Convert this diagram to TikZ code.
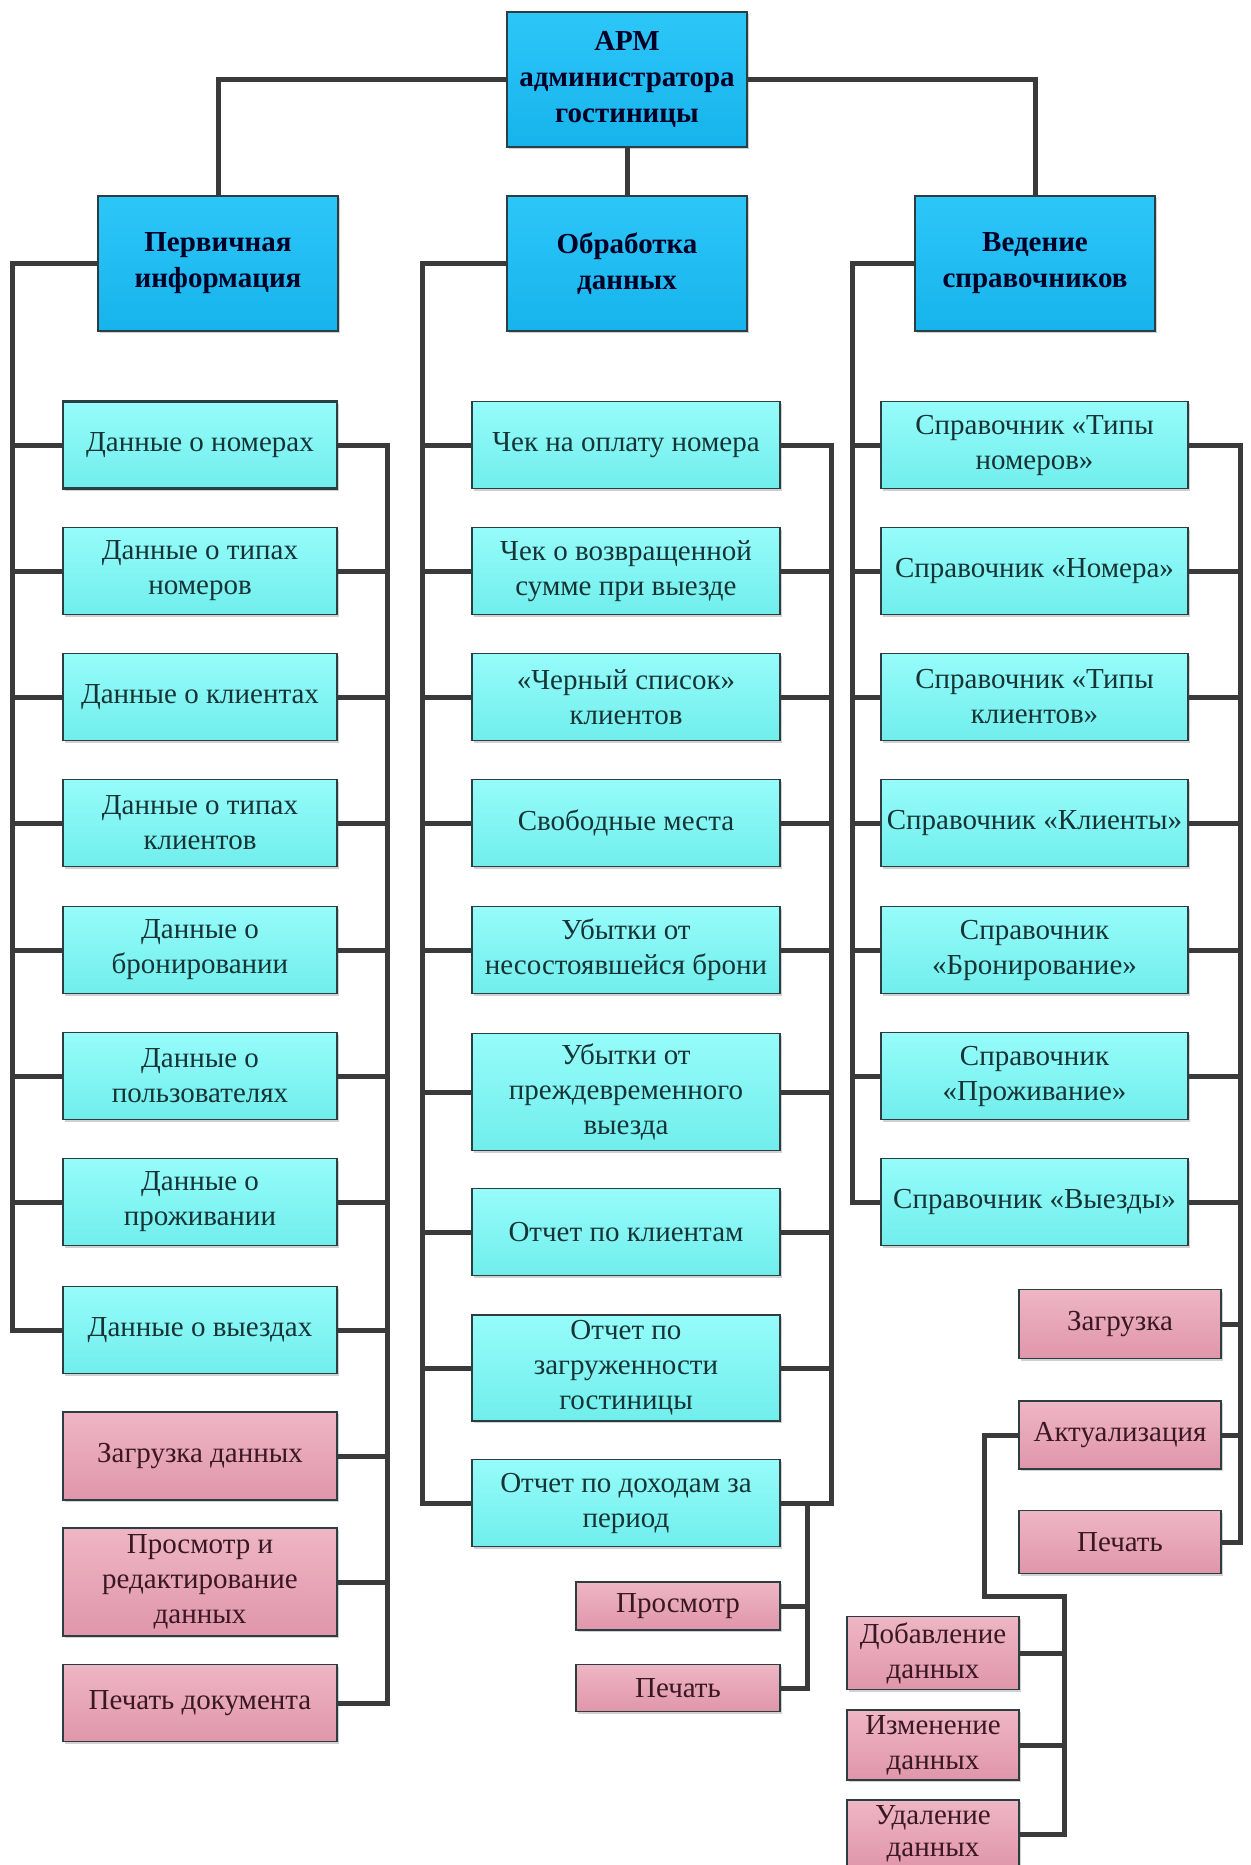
\documentclass[tikz,border=0pt]{standalone}
\usepackage{fontspec}
\setmainfont{Liberation Serif}
\usetikzlibrary{shadows}
\definecolor{linecol}{RGB}{58,58,58}
\definecolor{bordercol}{RGB}{45,62,66}
\definecolor{bluetop}{RGB}{45,198,248}
\definecolor{bluebot}{RGB}{22,180,236}
\definecolor{cyantop}{RGB}{150,252,250}
\definecolor{cyanbot}{RGB}{112,238,236}
\definecolor{pinktop}{RGB}{238,182,196}
\definecolor{pinkbot}{RGB}{224,150,170}
\definecolor{cyantext}{RGB}{22,52,54}
\definecolor{pinktext}{RGB}{58,24,34}
\begin{document}
\begin{tikzpicture}[x=0.5pt,y=-0.5pt,
  conn/.style={draw=linecol, line width=2.5pt},
  basebox/.style={draw=bordercol, line width=0.9pt, align=center, inner sep=0pt,
    drop shadow={shadow xshift=1.2pt, shadow yshift=-1.2pt, opacity=0.18, fill=black}},
  topbox/.style={basebox, top color=bluetop, bottom color=bluebot, text=black!85!blue,
    minimum width=120pt, minimum height=67.5pt, font=\bfseries\fontsize{14.5pt}{18pt}\selectfont},
  cbox/.style={basebox, top color=cyantop, bottom color=cyanbot, text=cyantext,
    font=\fontsize{14.5pt}{17.5pt}\selectfont},
  pbox/.style={basebox, top color=pinktop, bottom color=pinkbot, text=pinktext,
    font=\fontsize{14.5pt}{17.5pt}\selectfont},
  lw/.style={minimum width=137pt},
  mw/.style={minimum width=154pt},
  rw/.style={minimum width=153.5pt}
]
\useasboundingbox (0,0) rectangle (1250,1865);
\clip (0,0) rectangle (1250,1865);
\fill[white] (0,0) rectangle (1250,1865);

% top level
\node[topbox] (T) at (627,79.5) {АРМ\\администратора\\гостиницы};
\node[topbox] (P) at (218,263.5) {Первичная\\информация};
\node[topbox] (O) at (627,263.5) {Обработка\\данных};
\node[topbox] (V) at (1035,263.5) {Ведение\\справочников};

% left column
\node[cbox,lw,minimum height=43.5pt,line width=1.4pt] (L1) at (200,445) {Данные о номерах};
\node[cbox,lw,minimum height=43.5pt] (L2) at (200,571) {Данные о типах\\номеров};
\node[cbox,lw,minimum height=43.5pt] (L3) at (200,697) {Данные о клиентах};
\node[cbox,lw,minimum height=43.5pt] (L4) at (200,823) {Данные о типах\\клиентов};
\node[cbox,lw,minimum height=43.5pt] (L5) at (200,950) {Данные о\\бронировании};
\node[cbox,lw,minimum height=43.5pt] (L6) at (200,1076) {Данные о\\пользователях};
\node[cbox,lw,minimum height=43.5pt] (L7) at (200,1202) {Данные о\\проживании};
\node[cbox,lw,minimum height=43.5pt] (L8) at (200,1330) {Данные о выездах};
\node[pbox,lw,minimum height=44pt] (L9) at (200,1456) {Загрузка данных};
\node[pbox,lw,minimum height=54pt] (L10) at (200,1582) {Просмотр и\\редактирование\\данных};
\node[pbox,lw,minimum height=38.5pt] (L11) at (200,1703) {Печать документа};

% middle column
\node[cbox,mw,minimum height=43.5pt] (M1) at (626,445) {Чек на оплату номера};
\node[cbox,mw,minimum height=43.5pt] (M2) at (626,571) {Чек о возвращенной\\сумме при выезде};
\node[cbox,mw,minimum height=43.5pt] (M3) at (626,697) {«Черный список»\\клиентов};
\node[cbox,mw,minimum height=43.5pt] (M4) at (626,823) {Свободные места};
\node[cbox,mw,minimum height=43.5pt] (M5) at (626,950) {Убытки от\\несостоявшейся брони};
\node[cbox,mw,minimum height=58.5pt] (M6) at (626,1092) {Убытки от\\преждевременного\\выезда};
\node[cbox,mw,minimum height=43.5pt] (M7) at (626,1232) {Отчет по клиентам};
\node[cbox,mw,minimum height=53pt] (M8) at (626,1368) {Отчет по\\загруженности\\гостиницы};
\node[cbox,mw,minimum height=43.5pt] (M9) at (626,1503) {Отчет по доходам за\\период};
\node[pbox,minimum width=102pt,minimum height=24pt] (MP1) at (678,1606) {Просмотр};
\node[pbox,minimum width=102pt,minimum height=23.5pt] (MP2) at (678,1688) {Печать};

% right column
\node[cbox,rw,minimum height=43.5pt] (R1) at (1034.5,445) {Справочник «Типы\\номеров»};
\node[cbox,rw,minimum height=43.5pt] (R2) at (1034.5,571) {Справочник «Номера»};
\node[cbox,rw,minimum height=43.5pt] (R3) at (1034.5,697) {Справочник «Типы\\клиентов»};
\node[cbox,rw,minimum height=43.5pt] (R4) at (1034.5,823) {Справочник «Клиенты»};
\node[cbox,rw,minimum height=43.5pt] (R5) at (1034.5,950) {Справочник\\«Бронирование»};
\node[cbox,rw,minimum height=43.5pt] (R6) at (1034.5,1076) {Справочник\\«Проживание»};
\node[cbox,rw,minimum height=43.5pt] (R7) at (1034.5,1202) {Справочник «Выезды»};
\node[pbox,minimum width=101pt,minimum height=34.5pt] (RP1) at (1120,1324) {Загрузка};
\node[pbox,minimum width=101pt,minimum height=34pt] (RP2) at (1120,1435) {Актуализация};
\node[pbox,minimum width=101pt,minimum height=31.5pt] (RP3) at (1120,1542) {Печать};
\node[pbox,minimum width=86pt,minimum height=36.5pt] (Q1) at (933,1653) {Добавление\\данных};
\node[pbox,minimum width=86pt,minimum height=35pt] (Q2) at (933,1745) {Изменение\\данных};
\node[pbox,minimum width=86pt,minimum height=34pt,font=\fontsize{14.5pt}{16pt}\selectfont] (Q3) at (933,1834) {Удаление\\данных};

% bus coordinates
\coordinate (lsx) at (12,0);
\coordinate (rsx) at (387,0);
\coordinate (msx) at (422,0);
\coordinate (mbx) at (831,0);
\coordinate (msub) at (807,0);
\coordinate (rspx) at (852,0);
\coordinate (rbx) at (1240,0);
\coordinate (qx1) at (984,0);
\coordinate (qy) at (0,1596);
\coordinate (qx2) at (1064,0);

% top connectors
\draw[conn] (T.west) -| (P.north);
\draw[conn] (T.east) -| (V.north);
\draw[conn] (T.south) -- (O.north);

% left column connectors
\draw[conn] (P.west) -- (P.west -| lsx) -- (L8.west -| lsx) -- (L8.west);
\foreach \n in {L1,L2,L3,L4,L5,L6,L7}
  \draw[conn] (\n.west) -- (\n.west -| lsx);
\draw[conn] (L1.east) -- (L1.east -| rsx) -- (L11.east -| rsx) -- (L11.east);
\foreach \n in {L2,L3,L4,L5,L6,L7,L8,L9,L10}
  \draw[conn] (\n.east) -- (\n.east -| rsx);

% middle column connectors
\draw[conn] (O.west) -- (O.west -| msx) -- (M9.west -| msx) -- (M9.west);
\foreach \n in {M1,M2,M3,M4,M5,M6,M7,M8}
  \draw[conn] (\n.west) -- (\n.west -| msx);
\draw[conn] (M1.east) -- (M1.east -| mbx) -- (M9.east -| mbx) -- (M9.east);
\foreach \n in {M2,M3,M4,M5,M6,M7,M8}
  \draw[conn] (\n.east) -- (\n.east -| mbx);
\draw[conn] (M9.east -| msub) -- (MP2.east -| msub) -- (MP2.east);
\draw[conn] (MP1.east) -- (MP1.east -| msub);

% right column connectors
\draw[conn] (V.west) -- (V.west -| rspx) -- (R7.west -| rspx) -- (R7.west);
\foreach \n in {R1,R2,R3,R4,R5,R6}
  \draw[conn] (\n.west) -- (\n.west -| rspx);
\draw[conn] (R1.east) -- (R1.east -| rbx) -- (RP3.east -| rbx) -- (RP3.east);
\foreach \n in {R2,R3,R4,R5,R6,R7,RP1,RP2}
  \draw[conn] (\n.east) -- (\n.east -| rbx);
\draw[conn] (RP2.west) -- (RP2.west -| qx1) -- (qx1 |- qy) -- (qx2 |- qy) -- (Q3.east -| qx2) -- (Q3.east);
\draw[conn] (Q1.east) -- (Q1.east -| qx2);
\draw[conn] (Q2.east) -- (Q2.east -| qx2);
\end{tikzpicture}
\end{document}
